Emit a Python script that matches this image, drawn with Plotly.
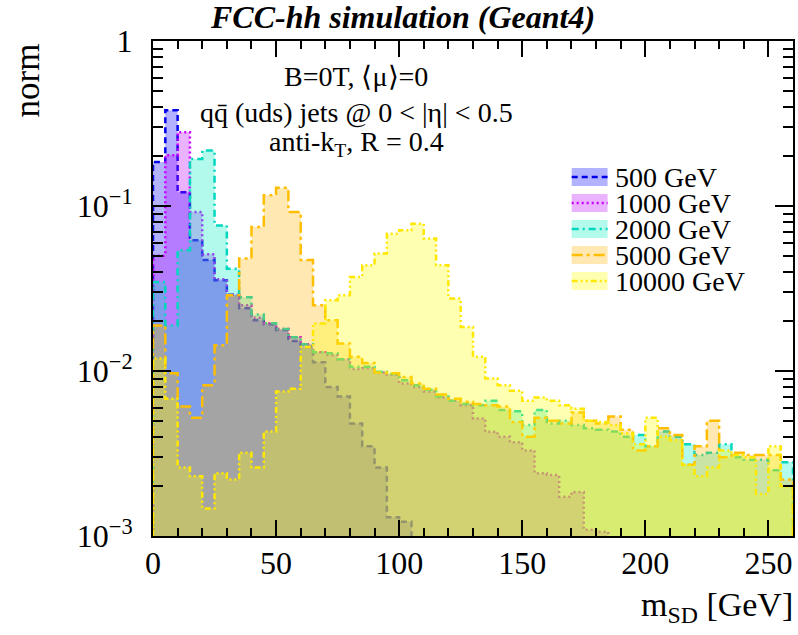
import plotly.graph_objects as go

# Soft-drop jet mass, normalised distributions, 5 GeV bins from 0 to 260 GeV
bin_width = 5
n_bins = 52

labels = ["500 GeV", "1000 GeV", "2000 GeV", "5000 GeV", "10000 GeV"]

norm_500 = [0.185, 0.38, 0.121, 0.062, 0.047, 0.0355, 0.029, 0.024, 0.0203, 0.0192,
            0.0177, 0.0152, 0.014, 0.0113, 0.008, 0.007, 0.0048, 0.0035, 0.0026, 0.0013,
            0.00122, 0, 0, 0, 0, 0, 0, 0, 0, 0,
            0, 0, 0, 0, 0, 0, 0, 0, 0, 0,
            0, 0, 0, 0, 0, 0, 0, 0, 0, 0,
            0, 0]

norm_1000 = [0.05, 0.203, 0.28, 0.092, 0.051, 0.036, 0.029, 0.025, 0.021, 0.0195,
             0.018, 0.016, 0.0145, 0.013, 0.0125, 0.0118, 0.0103, 0.0104, 0.0098, 0.0095,
             0.0084, 0.0080, 0.0075, 0.0069, 0.0066, 0.0062, 0.00516, 0.00428, 0.0040, 0.0037,
             0.0033, 0.0024, 0.00234, 0.00173, 0.00185, 0.00109, 0.00106, 0, 0, 0,
             0, 0, 0, 0, 0, 0, 0, 0, 0, 0,
             0, 0]

norm_2000 = [0.0346, 0.0189, 0.054, 0.193, 0.217, 0.0763, 0.0417, 0.028, 0.022, 0.0195,
             0.018, 0.016, 0.0145, 0.013, 0.0128, 0.0118, 0.0106, 0.0106, 0.0099, 0.0096,
             0.0088, 0.0082, 0.0077, 0.0070, 0.0066, 0.0063, 0.0062, 0.0066, 0.0058, 0.0057,
             0.0047, 0.0058, 0.0048, 0.0050, 0.0047, 0.0045, 0.0044, 0.0043, 0.0040, 0.0041,
             0.0035, 0.0043, 0.0040, 0.0036, 0.0031, 0.0032, 0.0036, 0.0030, 0.0029, 0.0029,
             0.0025, 0.0028]

norm_5000 = [0.0189, 0.0097, 0.0061, 0.0052, 0.0082, 0.0143, 0.0288, 0.048, 0.0745, 0.116,
             0.129, 0.092, 0.047, 0.025, 0.0203, 0.0147, 0.0122, 0.0112, 0.0098, 0.0097,
             0.0092, 0.0084, 0.0078, 0.0072, 0.0068, 0.0065, 0.0063, 0.0062, 0.0061, 0.0049,
             0.0040, 0.0052, 0.0050, 0.0048, 0.0056, 0.0050, 0.0048, 0.0053, 0.0044, 0.0033,
             0.0035, 0.0045, 0.0041, 0.0027, 0.0035, 0.0050, 0.0030, 0.0032, 0.0031, 0.0031,
             0.0031, 0.0022]

norm_10000 = [0.0119, 0.0068, 0.0026, 0.0023, 0.00147, 0.0024, 0.0022, 0.0032, 0.0026, 0.0043,
              0.0075, 0.0078, 0.014, 0.0194, 0.0268, 0.0288, 0.0371, 0.0437, 0.0515, 0.068,
              0.0712, 0.078, 0.0635, 0.0437, 0.0275, 0.0185, 0.0122, 0.0090, 0.0082, 0.0076,
              0.0066, 0.0069, 0.0066, 0.0062, 0.0059, 0.0050, 0.0049, 0.0047, 0.0042, 0.0036,
              0.0052, 0.0040, 0.0038, 0.0027, 0.0023, 0.0026, 0.0033, 0.0031, 0.0030, 0.0018,
              0.0035, 0.0020]

series = [norm_500, norm_1000, norm_2000, norm_5000, norm_10000]

line_colors = ["rgb(0,0,235)", "rgb(200,0,255)", "rgb(0,215,190)", "rgb(255,190,0)", "rgb(255,232,0)"]
fill_colors = ["rgba(0,0,255,0.3)", "rgba(190,0,255,0.3)", "rgba(0,240,190,0.3)",
               "rgba(255,180,0,0.3)", "rgba(255,255,0,0.3)"]
dashes = ["6px,4px", "2px,3px", "7px,4px,2px,4px", "11px,4px,3px,4px", "6px,3px,2px,3px,2px,3px"]

FONT = "Liberation Serif, Times New Roman, serif"
FLOOR = 1e-6  # empty bins sit below the visible log range

edges = [i * bin_width for i in range(n_bins + 1)]

fig = go.Figure()
for name, vals, lc, fc, dash in zip(labels, series, line_colors, fill_colors, dashes):
    xs = [edges[0]]
    ys = [FLOOR]
    for i, v in enumerate(vals):
        h = v if v > 0 else FLOOR
        xs += [edges[i], edges[i + 1]]
        ys += [h, h]
    xs.append(edges[-1])
    ys.append(FLOOR)
    fig.add_trace(go.Scatter(
        x=xs, y=ys, mode="lines", name=name, fill="toself", fillcolor=fc,
        line=dict(color=lc, width=2.5, dash=dash), hoverinfo="skip", showlegend=False,
    ))

# plot-area pixel geometry used for placing paper-referenced decorations
L, R, T, B = 153, 795, 41, 536
W, H = R - L, B - T


def px(x):
    return (x - L) / W


def py(y):
    return (B - y) / H


# hand-built legend: filled swatch with the line style through its middle
row_centers = [177, 203, 229, 255, 281]
for name, lc, fc, dash, yc in zip(labels, line_colors, fill_colors, dashes, row_centers):
    fig.add_shape(type="rect", xref="paper", yref="paper",
                  x0=px(573), x1=px(609), y0=py(yc + 9), y1=py(yc - 9),
                  fillcolor=fc, line=dict(width=0))
    fig.add_shape(type="line", xref="paper", yref="paper",
                  x0=px(573), x1=px(609), y0=py(yc), y1=py(yc),
                  line=dict(color=lc, width=2.5, dash=dash))
    fig.add_annotation(xref="paper", yref="paper", x=px(614), y=py(yc),
                       xanchor="left", yanchor="middle", showarrow=False,
                       text=name, font=dict(family=FONT, size=28, color="black"))

# descriptive text block
info_lines = ["B=0T, \u27e8\u03bc\u27e9=0",
              "qq\u0304 (uds) jets @ 0 < |\u03b7| < 0.5",
              "anti-k<sub>T</sub>, R = 0.4"]
for text, yc in zip(info_lines, [76, 112, 143]):
    fig.add_annotation(xref="paper", yref="paper", x=px(357), y=py(yc),
                       xanchor="center", yanchor="middle", showarrow=False,
                       text=text, font=dict(family=FONT, size=28, color="black"))

# axis titles placed at the axis ends
fig.add_annotation(xref="paper", yref="paper", x=px(797), y=py(607),
                   xanchor="right", yanchor="middle", showarrow=False,
                   text="m<sub>SD</sub> [GeV]", font=dict(family=FONT, size=34, color="black"))
fig.add_annotation(xref="paper", yref="paper", x=px(28), y=py(80),
                   xanchor="center", yanchor="middle", showarrow=False, textangle=-90,
                   text="norm", font=dict(family=FONT, size=35, color="black"))

y_major = [1e-3, 1e-2, 1e-1, 1]
y_major_text = ["10<sup>\u22123</sup>", "10<sup>\u22122</sup>", "10<sup>\u22121</sup>", "1"]
y_minor = [m * d for d in (1e-3, 1e-2, 1e-1) for m in range(2, 10)]

fig.update_layout(
    width=798, height=635, autosize=False,
    margin=dict(l=L, r=798 - R, t=T, b=635 - B),
    paper_bgcolor="white", plot_bgcolor="white",
    title=dict(text="<b><i>FCC-hh simulation (Geant4)</i></b>", x=403 / 798, y=1 - 17 / 635,
               xanchor="center", yanchor="middle",
               font=dict(family=FONT, size=32, color="black")),
    showlegend=False,
    xaxis=dict(range=[0, 260], showgrid=False, zeroline=False,
               showline=True, linecolor="black", linewidth=2, mirror="allticks",
               ticks="inside", ticklen=16, tickwidth=2, tickcolor="black",
               tickmode="array", tickvals=[0, 50, 100, 150, 200, 250],
               ticklabelstandoff=-2,
               tickfont=dict(family=FONT, size=32, color="black"),
               minor=dict(ticks="inside", ticklen=8, tickwidth=1.5, tickcolor="black",
                          tickmode="array", tickvals=list(range(10, 260, 10)), showgrid=False)),
    yaxis=dict(type="log", range=[-3, 0], showgrid=False, zeroline=False,
               showline=True, linecolor="black", linewidth=2, mirror="allticks",
               ticks="inside", ticklen=18, tickwidth=2, tickcolor="black",
               tickmode="array", tickvals=y_major, ticktext=y_major_text,
               ticklabelstandoff=12,
               tickfont=dict(family=FONT, size=32, color="black"),
               minor=dict(ticks="inside", ticklen=10, tickwidth=1.5, tickcolor="black",
                          tickmode="array", tickvals=y_minor, showgrid=False)),
)

fig.write_html("out.html")
